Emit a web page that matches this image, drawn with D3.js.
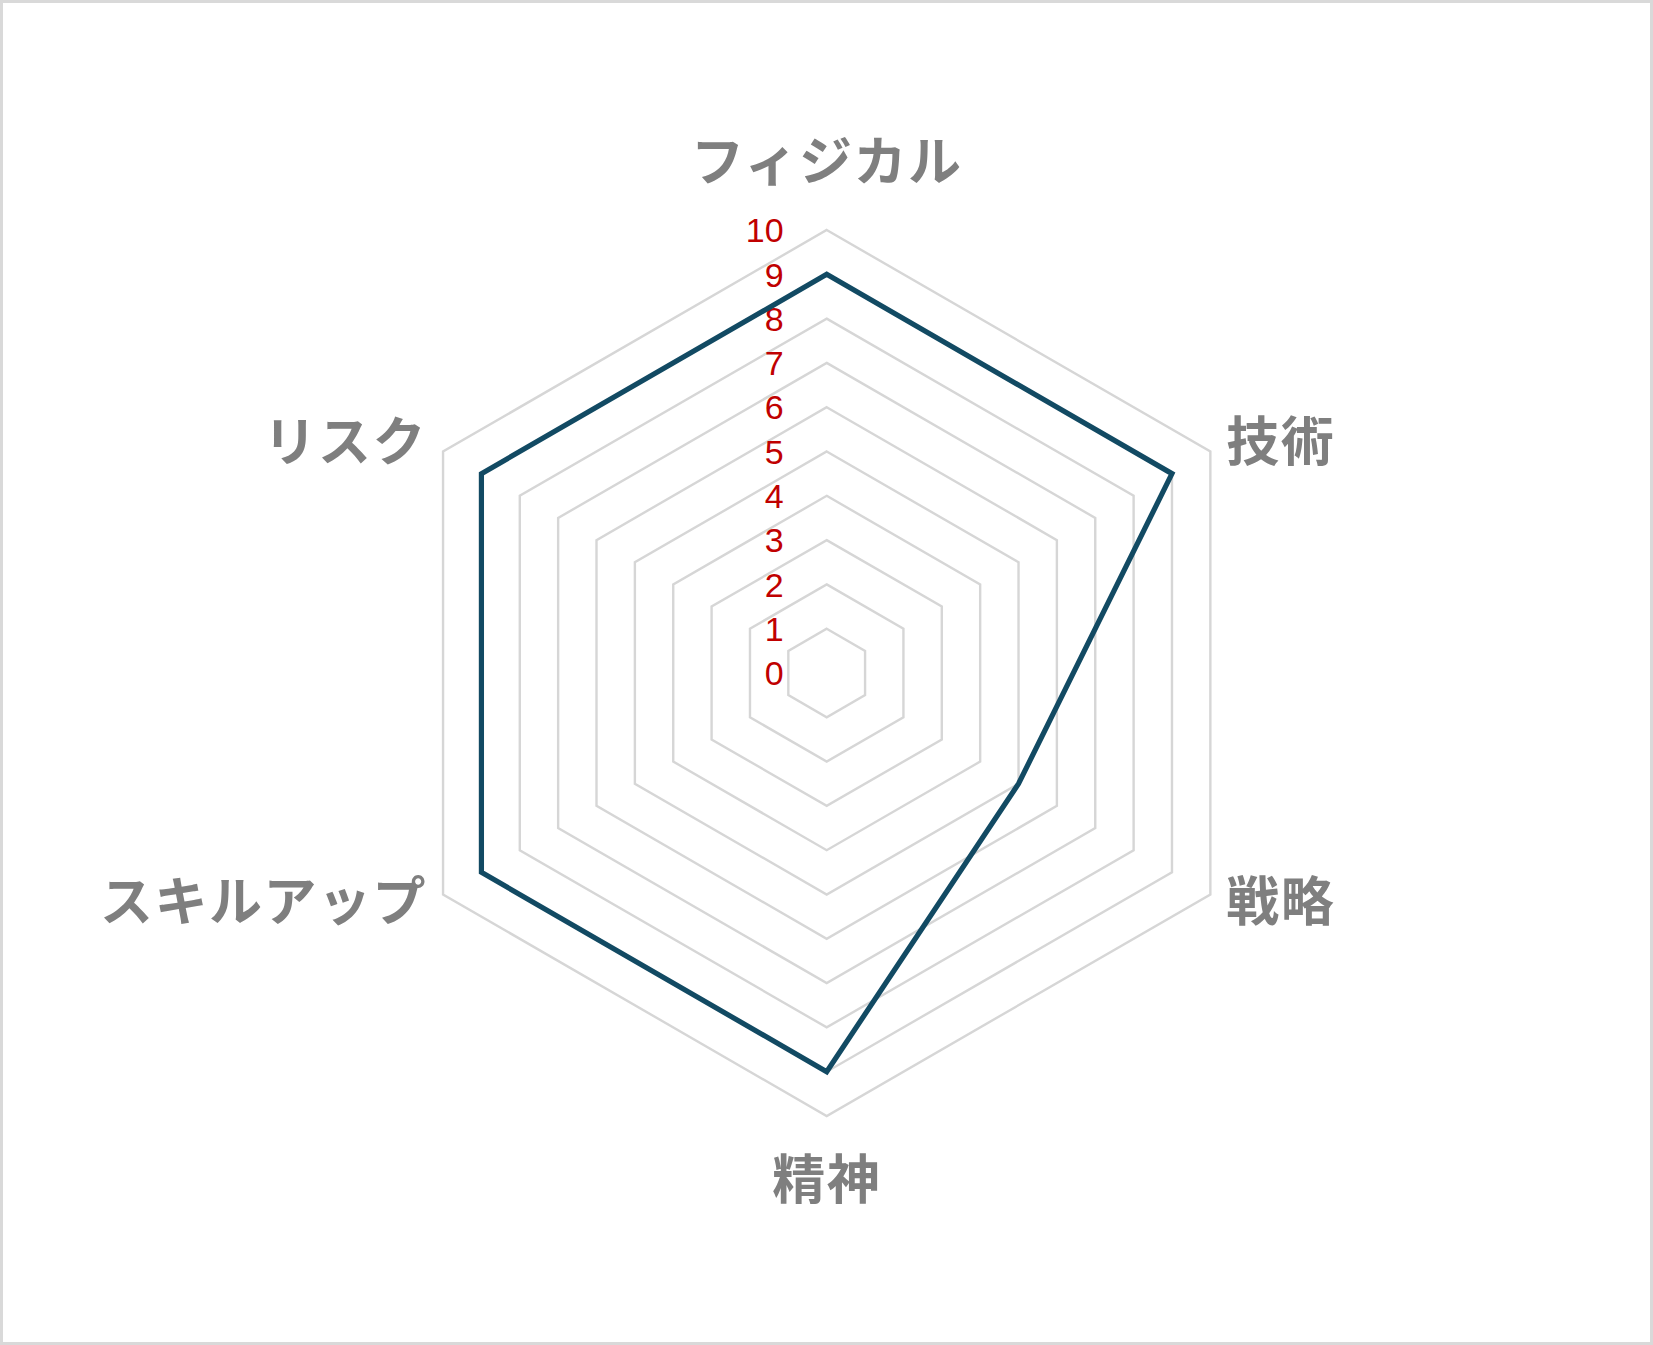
<!DOCTYPE html>
<html>
<head>
<meta charset="utf-8">
<script src="https://cdn.jsdelivr.net/npm/d3@7"></script>
<style>
  html, body { margin: 0; padding: 0; background: #fff; }
</style>
</head>
<body>
<div id="chart"></div>
<script>
var categories = ["フィジカル", "技術", "戦略", "精神", "スキルアップ", "リスク"];
var values = [9, 9, 5, 9, 9, 9];
var ticks = [0, 1, 2, 3, 4, 5, 6, 7, 8, 9, 10];

var width = 1653,
    height = 1345,
    cx = 826.7,
    cy = 673,
    radius = 443;

var r = d3.scaleLinear()
    .domain([0, 10])
    .range([0, radius]);

var angle = d3.scaleLinear()
    .domain([0, categories.length])
    .range([0, 2 * Math.PI]);

var svg = d3.select("#chart").append("svg")
    .attr("width", width)
    .attr("height", height);

// outer frame
svg.append("rect")
    .attr("x", 1.5)
    .attr("y", 1.5)
    .attr("width", width - 3)
    .attr("height", height - 3)
    .attr("fill", "#fff")
    .attr("stroke", "#d9d9d9")
    .attr("stroke-width", 3);

var g = svg.append("g")
    .attr("transform", "translate(" + cx + "," + cy + ")");

var line = d3.lineRadial()
    .angle(function (d, i) { return angle(i); })
    .radius(function (d) { return r(d); })
    .curve(d3.curveLinearClosed);

// grid rings
g.append("g")
    .selectAll("path")
    .data(ticks.filter(function (t) { return t > 0; }))
    .enter().append("path")
    .attr("d", function (t) { return line(categories.map(function () { return t; })); })
    .attr("fill", "none")
    .attr("stroke", "#d6d6d6")
    .attr("stroke-width", 2.4);

// tick labels
g.append("g")
    .attr("font-family", "'Liberation Sans', Arial, sans-serif")
    .attr("font-size", 34)
    .attr("fill", "#c00000")
    .attr("text-anchor", "end")
    .selectAll("text")
    .data(ticks)
    .enter().append("text")
    .attr("x", -43)
    .attr("y", function (t) { return -r(t); })
    .attr("dy", "0.36em")
    .text(function (t) { return t; });

// data polygon
g.append("path")
    .attr("d", line(values))
    .attr("fill", "none")
    .attr("stroke", "#124a63")
    .attr("stroke-width", 5.2)
    .attr("stroke-linejoin", "miter");

// category labels
g.append("g")
    .attr("font-family", "'Noto Sans CJK JP', sans-serif")
    .attr("font-weight", "bold")
    .attr("font-size", 53)
    .attr("letter-spacing", 1.5)
    .attr("fill", "#7f7f7f")
    .selectAll("text")
    .data(categories)
    .enter().append("text")
    .attr("dominant-baseline", "central")
    .attr("text-anchor", function (d, i) {
        var s = Math.sin(angle(i));
        return Math.abs(s) < 1e-6 ? "middle" : (s > 0 ? "start" : "end");
    })
    .attr("x", function (d, i) {
        var s = Math.sin(angle(i));
        if (Math.abs(s) < 1e-6) return 0;
        return s * radius + (s > 0 ? 16 : -16);
    })
    .attr("y", function (d, i) {
        var c = -Math.cos(angle(i));
        if (Math.abs(Math.sin(angle(i))) < 1e-6) return c < 0 ? -radius - 72 : radius + 60;
        return c * radius + (c < 0 ? -14 : 3);
    })
    .text(function (d) { return d; });
</script>
</body>
</html>
